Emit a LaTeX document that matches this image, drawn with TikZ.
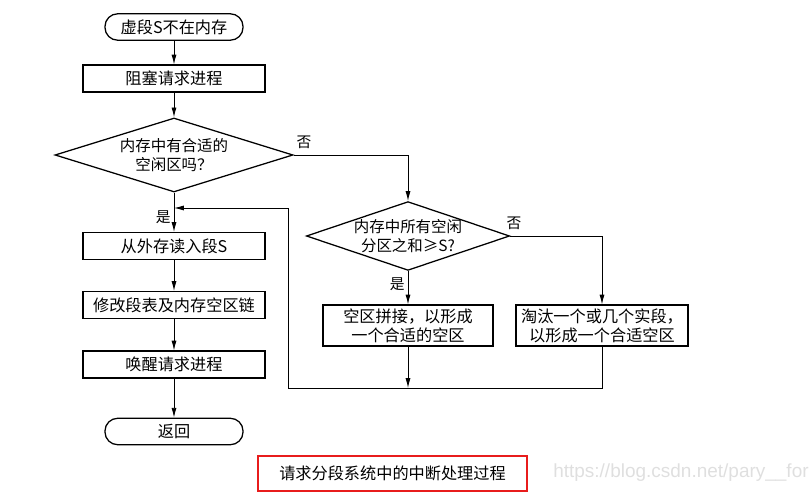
\documentclass[tikz,border=0pt]{standalone}
\usepackage{fontspec}
\setmainfont{Noto Sans CJK SC}
\newfontfamily\urlfont{Liberation Sans}
\usetikzlibrary{arrows.meta,shapes.geometric,positioning}
\definecolor{captionred}{RGB}{232,28,28}
\tikzset{
    % start / end of the flow
    terminal/.style={
        rectangle, draw, rounded corners=9pt,
        minimum width=3.45cm, minimum height=0.66cm,
        inner sep=1pt, line width=0.9pt,
        font=\fontsize{11.5}{13.5}\selectfont
    },
    % ordinary step
    procbox/.style={
        rectangle, draw, minimum width=4.55cm, minimum height=0.67cm,
        inner sep=2pt, line width=0.9pt, align=center,
        font=\fontsize{11.5}{13.5}\selectfont
    },
    % question (text is put in as a centre label)
    decision/.style={
        diamond, draw, inner sep=0pt, line width=0.9pt
    },
    dtext/.style={align=center, font=\fontsize{11}{13.5}\selectfont},
    % yes / no marks
    yesno/.style={font=\fontsize{10.5}{12}\selectfont, inner sep=2pt},
    % connectors
    flow/.style={line width=0.65pt, -{Latex[length=7pt,width=3.6pt]}},
}

\begin{document}
\begin{tikzpicture}[x=0.025cm,y=-0.025cm]
  \useasboundingbox (0,0) rectangle (811,497);

  % main column
  \node[terminal] (start) at (174,27) {虚段S不在内存};
  \node[procbox] (block) at (174,78.5) {阻塞请求进程};
  \node[decision, minimum width=5.95cm, minimum height=1.85cm,
        label={[dtext]center:{内存中有合适的\\空闲区吗？}}] (fit) at (174,155) {};
  \node[procbox] (read) at (174,246) {从外存读入段S};
  \node[procbox] (modify) at (174,305) {修改段表及内存空区链};
  \node[procbox] (wake) at (174,364.5) {唤醒请求进程};
  \node[terminal] (ret) at (174,431.5) {返回};

  % right branch
  \node[decision, minimum width=5.08cm, minimum height=1.72cm,
        label={[dtext]center:{内存中所有空闲\\分区之和≥S?}}] (total) at (408,236) {};
  \node[procbox, minimum width=4.25cm, minimum height=1.02cm] (merge) at (408,325.5)
       {空区拼接，以形成\\一个合适的空区};
  \node[procbox, minimum width=4.3cm, minimum height=1.02cm] (evict) at (602,325.5)
       {淘汰一个或几个实段，\\以形成一个合适空区};
  \coordinate (bottom) at (288,388);
  \coordinate (rejoin) at (174,208);

  % connectors
  \draw[flow] (start) -- (block);
  \draw[flow] (block) -- (fit);
  \draw[flow] (fit) -- node[yesno, left, pos=0.63] {是} (read);
  \draw[flow] (read) -- (modify);
  \draw[flow] (modify) -- (wake);
  \draw[flow] (wake) -- (ret);
  \draw[flow] (fit.east) -| node[yesno, above=2pt, pos=0.045] {否} (total.north);
  \draw[flow] (total) -- node[yesno, left, pos=0.38] {是} (merge);
  \draw[flow] (total.east) -| node[yesno, above=2pt, pos=0.02] {否} (evict.north);
  \draw[flow] (merge) -- (merge |- bottom);
  \draw[flow] (evict.south) |- (bottom) |- (rejoin);

  % caption and mark
  \node[draw=captionred, line width=1.6pt, minimum width=6.72cm, minimum height=0.87cm,
        font=\fontsize{11.5}{13.5}\selectfont] (caption) at (392.5,473.5) {请求分段系统中的中断处理过程};
  \node[anchor=west, text=gray!25, font=\urlfont\fontsize{13.5}{15}\selectfont, inner sep=0pt]
       (mark) at (553,473) {https://blog.csdn.net/pary\_\_for};
\end{tikzpicture}
\end{document}
